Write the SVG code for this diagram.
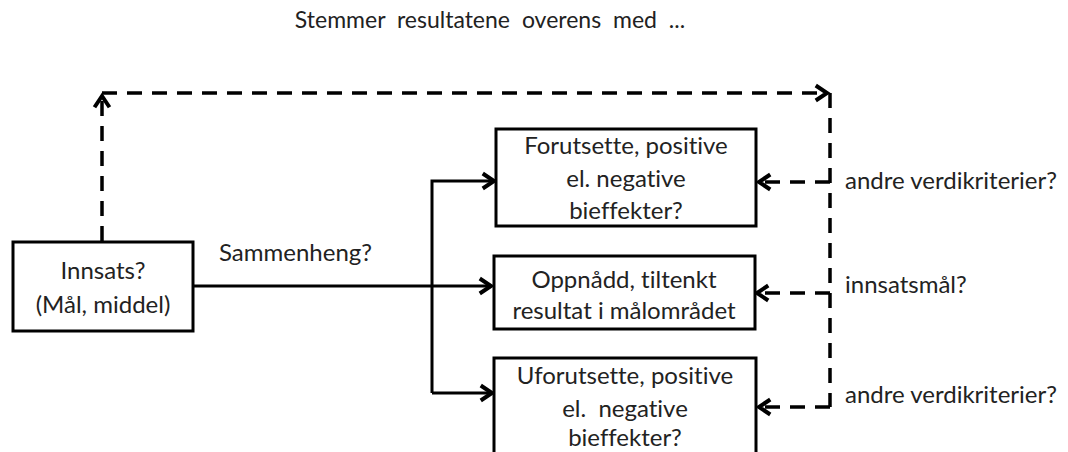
<svg xmlns="http://www.w3.org/2000/svg" width="1068" height="452" viewBox="0 0 1068 452">
<style>
.box{fill:#fff;stroke:#000;stroke-width:3}
.t{font-family:Lato,"Liberation Sans",sans-serif;font-size:24px;fill:#222;font-variant-ligatures:none;white-space:pre}
.c{text-anchor:middle}
.solid{fill:none;stroke:#000;stroke-width:3}
.dash{fill:none;stroke:#000;stroke-width:3.5;stroke-dasharray:15 10}
</style>
<defs>
<marker id="ah" markerUnits="userSpaceOnUse" markerWidth="20" markerHeight="20" viewBox="-12 -8 14 16" refX="0" refY="0" orient="auto">
<path d="M-9,-6 L0,0 L-9,6" fill="none" stroke="#000" stroke-width="3.2" stroke-linejoin="miter"/>
</marker>
</defs>
<rect width="1068" height="452" fill="#fff"/>
<text class="t c" x="490" y="28" style="font-size:23px;word-spacing:6px">Stemmer resultatene overens med ...</text>
<g id="connectors">
<path class="solid" d="M193,286 H491" marker-end="url(#ah)"/>
<path class="solid" d="M432,393 V181 H494" marker-end="url(#ah)"/>
<path class="solid" d="M432,393 H492" marker-end="url(#ah)"/>
<path class="dash" d="M102,241 V96" marker-end="url(#ah)"/>
<path class="dash" d="M102,93 H827" marker-end="url(#ah)"/>
<path class="dash" d="M830,93 V407"/>
<path class="dash" d="M830,182 H759" marker-end="url(#ah)"/>
<path class="dash" d="M830,293 H757" marker-end="url(#ah)"/>
<path class="dash" d="M830,407 H759" marker-end="url(#ah)"/>
<text class="t" x="219" y="261">Sammenheng?</text>
<text class="t" x="845" y="189">andre verdikriterier?</text>
<text class="t" x="845" y="293">innsatsmål?</text>
<text class="t" x="845" y="403">andre verdikriterier?</text>
</g>
<g id="innsats">
<rect class="box" x="13" y="242" width="180" height="89"/>
<text class="t c" x="103" y="279">Innsats?</text>
<text class="t c" x="103" y="313">(Mål, middel)</text>
</g>
<g id="forutsette">
<rect class="box" x="496" y="129" width="260" height="97"/>
<text class="t c" x="626" y="154">Forutsette, positive</text>
<text class="t c" x="626" y="187">el. negative</text>
<text class="t c" x="626" y="219">bieffekter?</text>
</g>
<g id="oppnadd">
<rect class="box" x="494" y="256" width="261" height="73"/>
<text class="t c" x="624" y="288">Oppnådd, tiltenkt</text>
<text class="t c" x="624" y="319">resultat i målområdet</text>
</g>
<g id="uforutsette">
<rect class="box" x="494" y="358" width="262" height="97"/>
<text class="t c" x="625" y="384">Uforutsette, positive</text>
<text class="t c" x="625" y="417">el.  negative</text>
<text class="t c" x="625" y="446">bieffekter?</text>
</g>
</svg>
